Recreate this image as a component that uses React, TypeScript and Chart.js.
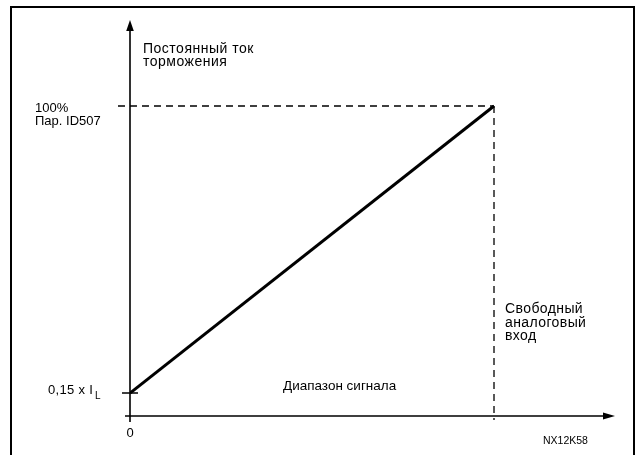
import React, { useEffect, useRef } from 'react';
import { Chart, registerables } from 'chart.js';

Chart.register(...registerables);

// Signal (x, 0..1 of range) vs DC braking current (y, % of Par. ID507)
const signalValues = [0, 1];
const currentValues = [7.4, 100];
const refLevelX = [-0.033, 1];
const refLevelY = [100, 100];
const refRangeX = [1, 1];
const refRangeY = [100, -1.3];

const yAxisTitle = ['Постоянный ток', 'торможения'];
const topTickLabel = ['100%', 'Пар. ID507'];
const bottomTickLabel = '0,15 x I';
const bottomTickSub = 'L';
const xZeroLabel = '0';
const rangeLabel = 'Диапазон сигнала';
const freeInputLabel = ['Свободный', 'аналоговый', 'вход'];
const codeLabel = 'NX12K58';

const FONT = '"Liberation Sans", Arial, Helvetica, sans-serif';

const schematicPlugin = {
  id: 'schematic',
  afterDraw(chart: any) {
    const ctx = chart.ctx as any;
    const xs = chart.scales.x;
    const ys = chart.scales.y;
    const area = chart.chartArea;
    const x0 = xs.getPixelForValue(0);
    const y0 = ys.getPixelForValue(0);
    const yTop = ys.getPixelForValue(100);
    const yStart = ys.getPixelForValue(currentValues[0]);
    const xEnd = xs.getPixelForValue(1);
    ctx.save();
    // frame
    ctx.strokeStyle = '#000';
    ctx.lineWidth = 2;
    ctx.strokeRect(11, 7, 623, 460);
    // axes
    ctx.lineWidth = 1.6;
    ctx.beginPath();
    ctx.moveTo(x0, y0 + 6);
    ctx.lineTo(x0, area.top + 8);
    ctx.moveTo(x0 - 5, y0);
    ctx.lineTo(area.right - 10, y0);
    // tick at start level
    ctx.moveTo(x0 - 8, yStart);
    ctx.lineTo(x0 + 8, yStart);
    ctx.stroke();
    // arrowheads
    ctx.fillStyle = '#000';
    ctx.beginPath();
    ctx.moveTo(x0, area.top);
    ctx.lineTo(x0 - 3.8, area.top + 11);
    ctx.lineTo(x0 + 3.8, area.top + 11);
    ctx.closePath();
    ctx.fill();
    ctx.beginPath();
    ctx.moveTo(area.right, y0);
    ctx.lineTo(area.right - 12, y0 - 3.5);
    ctx.lineTo(area.right - 12, y0 + 3.5);
    ctx.closePath();
    ctx.fill();
    // texts
    ctx.textBaseline = 'alphabetic';
    ctx.textAlign = 'left';
    ctx.font = `14px ${FONT}`;
    ctx.letterSpacing = '0.5px';
    ctx.fillText(yAxisTitle[0], x0 + 13, area.top + 33);
    ctx.fillText(yAxisTitle[1], x0 + 13, area.top + 46);
    ctx.letterSpacing = '0px';
    ctx.font = `13px ${FONT}`;
    ctx.fillText(topTickLabel[0], 35, yTop + 6);
    ctx.fillText(topTickLabel[1], 35, yTop + 19);
    ctx.letterSpacing = '0.3px';
    ctx.fillText(bottomTickLabel, 48, yStart + 1);
    const w = ctx.measureText(bottomTickLabel).width;
    ctx.letterSpacing = '0px';
    ctx.font = `10px ${FONT}`;
    ctx.fillText(bottomTickSub, 48 + w + 2, yStart + 6);
    ctx.font = `13px ${FONT}`;
    ctx.textAlign = 'center';
    ctx.fillText(xZeroLabel, x0, y0 + 21);
    ctx.textAlign = 'left';
    ctx.font = `13.5px ${FONT}`;
    ctx.fillText(rangeLabel, 283, y0 - 26);
    ctx.font = `14px ${FONT}`;
    ctx.letterSpacing = '0.4px';
    freeInputLabel.forEach((t: string, i: number) => ctx.fillText(t, xEnd + 11, 313 + i * 13.5));
    ctx.letterSpacing = '0px';
    ctx.font = `10.5px ${FONT}`;
    ctx.fillText(codeLabel, 543, y0 + 28);
    ctx.restore();
  },
};

export default function App() {
  const ref = useRef<HTMLCanvasElement>(null);
  useEffect(() => {
    if (!ref.current) return;
    const chart = new Chart(ref.current, {
      type: 'line',
      data: {
        datasets: [
          {
            data: signalValues.map((x, i) => ({ x, y: currentValues[i] })),
            borderColor: '#000',
            borderWidth: 3,
            pointRadius: 0,
            fill: false,
          },
          {
            data: refLevelX.map((x, i) => ({ x, y: refLevelY[i] })),
            borderColor: '#000',
            borderWidth: 1.3,
            borderDash: [7, 5],
            pointRadius: 0,
            clip: false as any,
          },
          {
            data: refRangeX.map((x, i) => ({ x, y: refRangeY[i] })),
            borderColor: '#000',
            borderWidth: 1.3,
            borderDash: [7, 5],
            pointRadius: 0,
            clip: false as any,
          },
        ],
      },
      options: {
        animation: false,
        responsive: false,
        layout: { padding: { left: 130, right: 22, top: 20, bottom: 39 } },
        plugins: { legend: { display: false }, tooltip: { enabled: false } },
        scales: {
          x: { type: 'linear', min: 0, max: 1.3324, display: false },
          y: { type: 'linear', min: 0, max: 127.74, display: false },
        },
      },
      plugins: [schematicPlugin],
    });
    return () => chart.destroy();
  }, []);
  return (
    <div style={{ position: 'fixed', left: 0, top: 0, width: 637, height: 455, background: '#fff' }}>
      <canvas ref={ref} width={637} height={455} style={{ width: 637, height: 455 }} />
    </div>
  );
}
